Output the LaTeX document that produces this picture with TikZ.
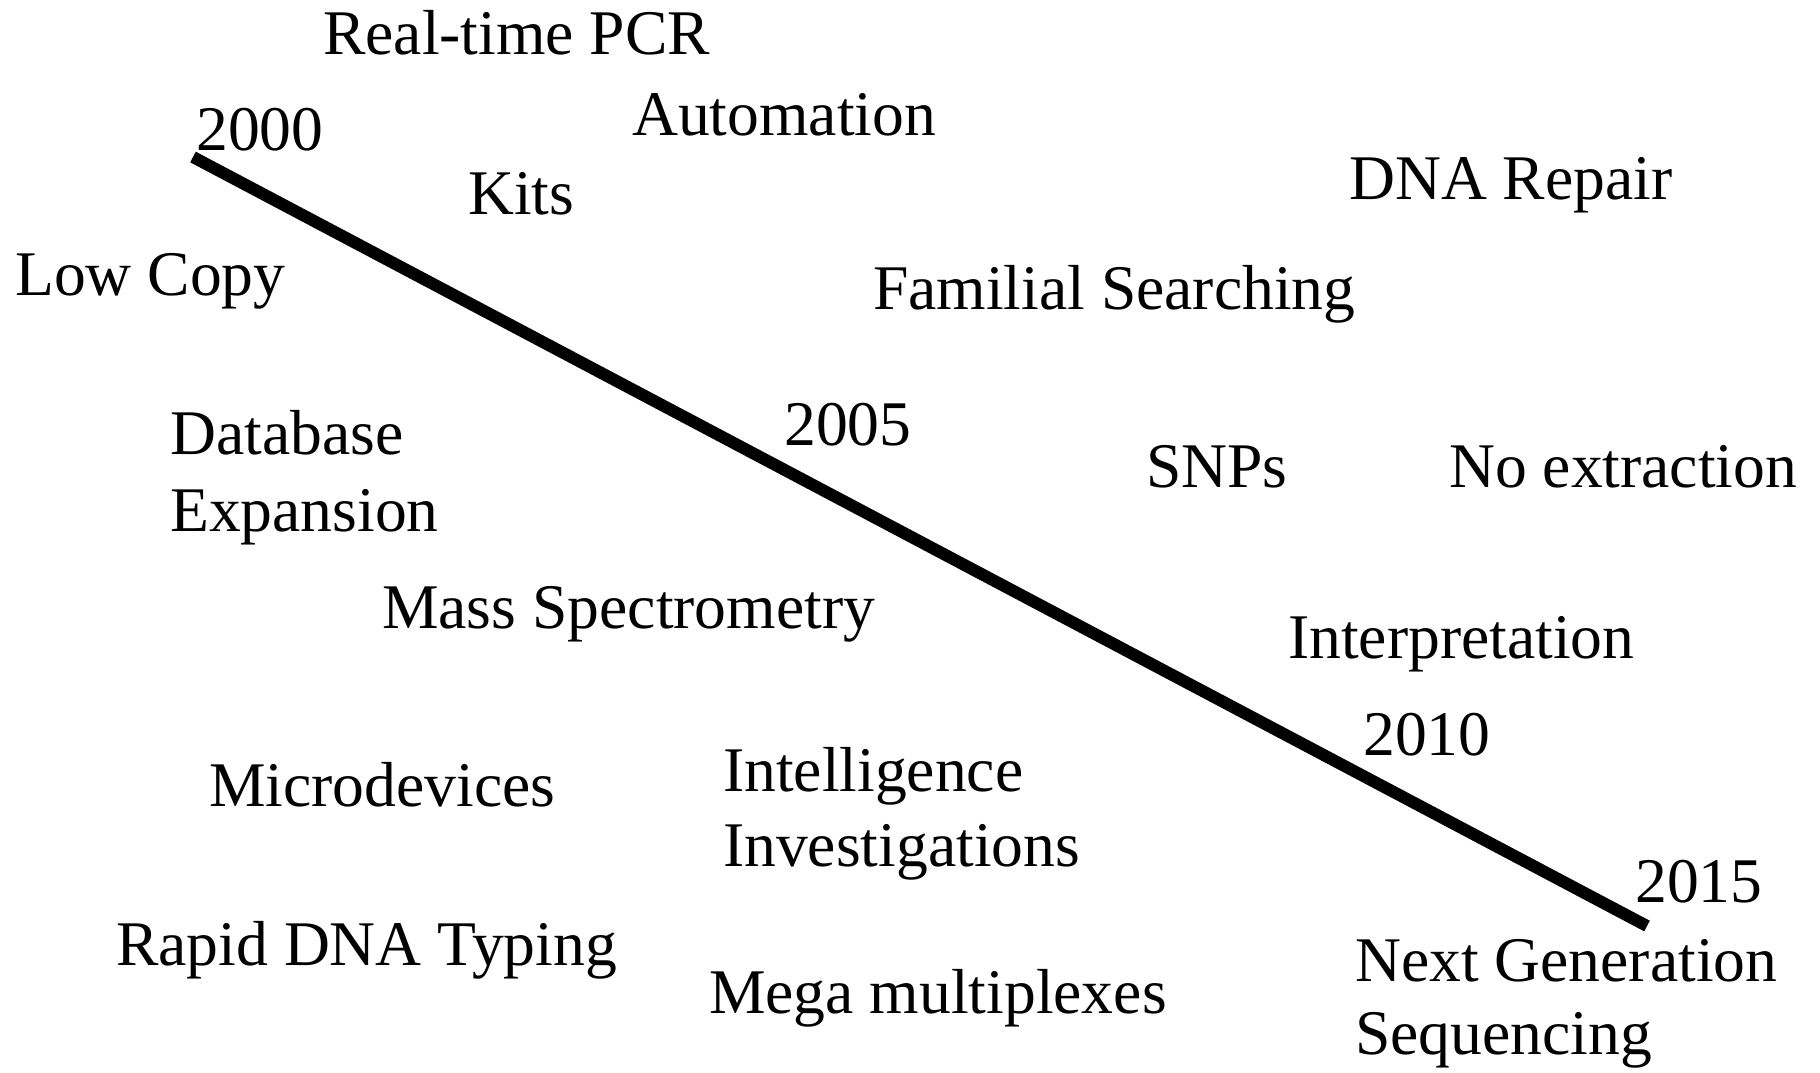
\documentclass[tikz,border=0pt]{standalone}
\usepackage{fontspec}
\setmainfont{Liberation Serif}
\begin{document}
\begin{tikzpicture}[x=1pt,y=-1pt,
  lbl/.style={anchor=base west,inner sep=0pt,font=\fontsize{63.6}{70}\selectfont},
  timeline/.style={line width=12pt,line cap=butt}]
\useasboundingbox (0,0) rectangle (1820,1072);
% timeline axis
\coordinate (t0) at (193,157);
\coordinate (t1) at (1647,926);
\draw[timeline] (t0) -- (t1);
% year marks
\node[lbl] (y2000) at (196,150) {2000};
\node[lbl] (y2005) at (784,445) {2005};
\node[lbl] (y2010) at (1363,755) {2010};
\node[lbl] (y2015) at (1635,902) {2015};
% developments
\node[lbl] (rtpcr) at (323,54) {Real-time PCR};
\node[lbl] (auto) at (632,135) {Automation};
\node[lbl] (kits) at (468,214) {Kits};
\node[lbl] (repair) at (1349,199) {DNA Repair};
\node[lbl] (lowcopy) at (15,295) {Low Copy};
\node[lbl] (familial) at (873,309) {Familial Searching};
\node[lbl] (db1) at (170,454) {Database};
\node[lbl] (db2) at (170,531) {Expansion};
\node[lbl] (snps) at (1146,487) {SNPs};
\node[lbl] (noext) at (1449,487) {No extraction};
\node[lbl] (mass) at (382,628) {Mass Spectrometry};
\node[lbl] (interp) at (1288,658) {Interpretation};
\node[lbl] (micro) at (209,806) {Microdevices};
\node[lbl] (intel1) at (723,791) {Intelligence};
\node[lbl] (intel2) at (723,866) {Investigations};
\node[lbl] (rapid) at (116,965) {Rapid DNA Typing};
\node[lbl] (ngs1) at (1355,981) {Next Generation};
\node[lbl] (ngs2) at (1355,1054) {Sequencing};
\node[lbl] (mega) at (709,1013) {Mega multiplexes};
\end{tikzpicture}
\end{document}
